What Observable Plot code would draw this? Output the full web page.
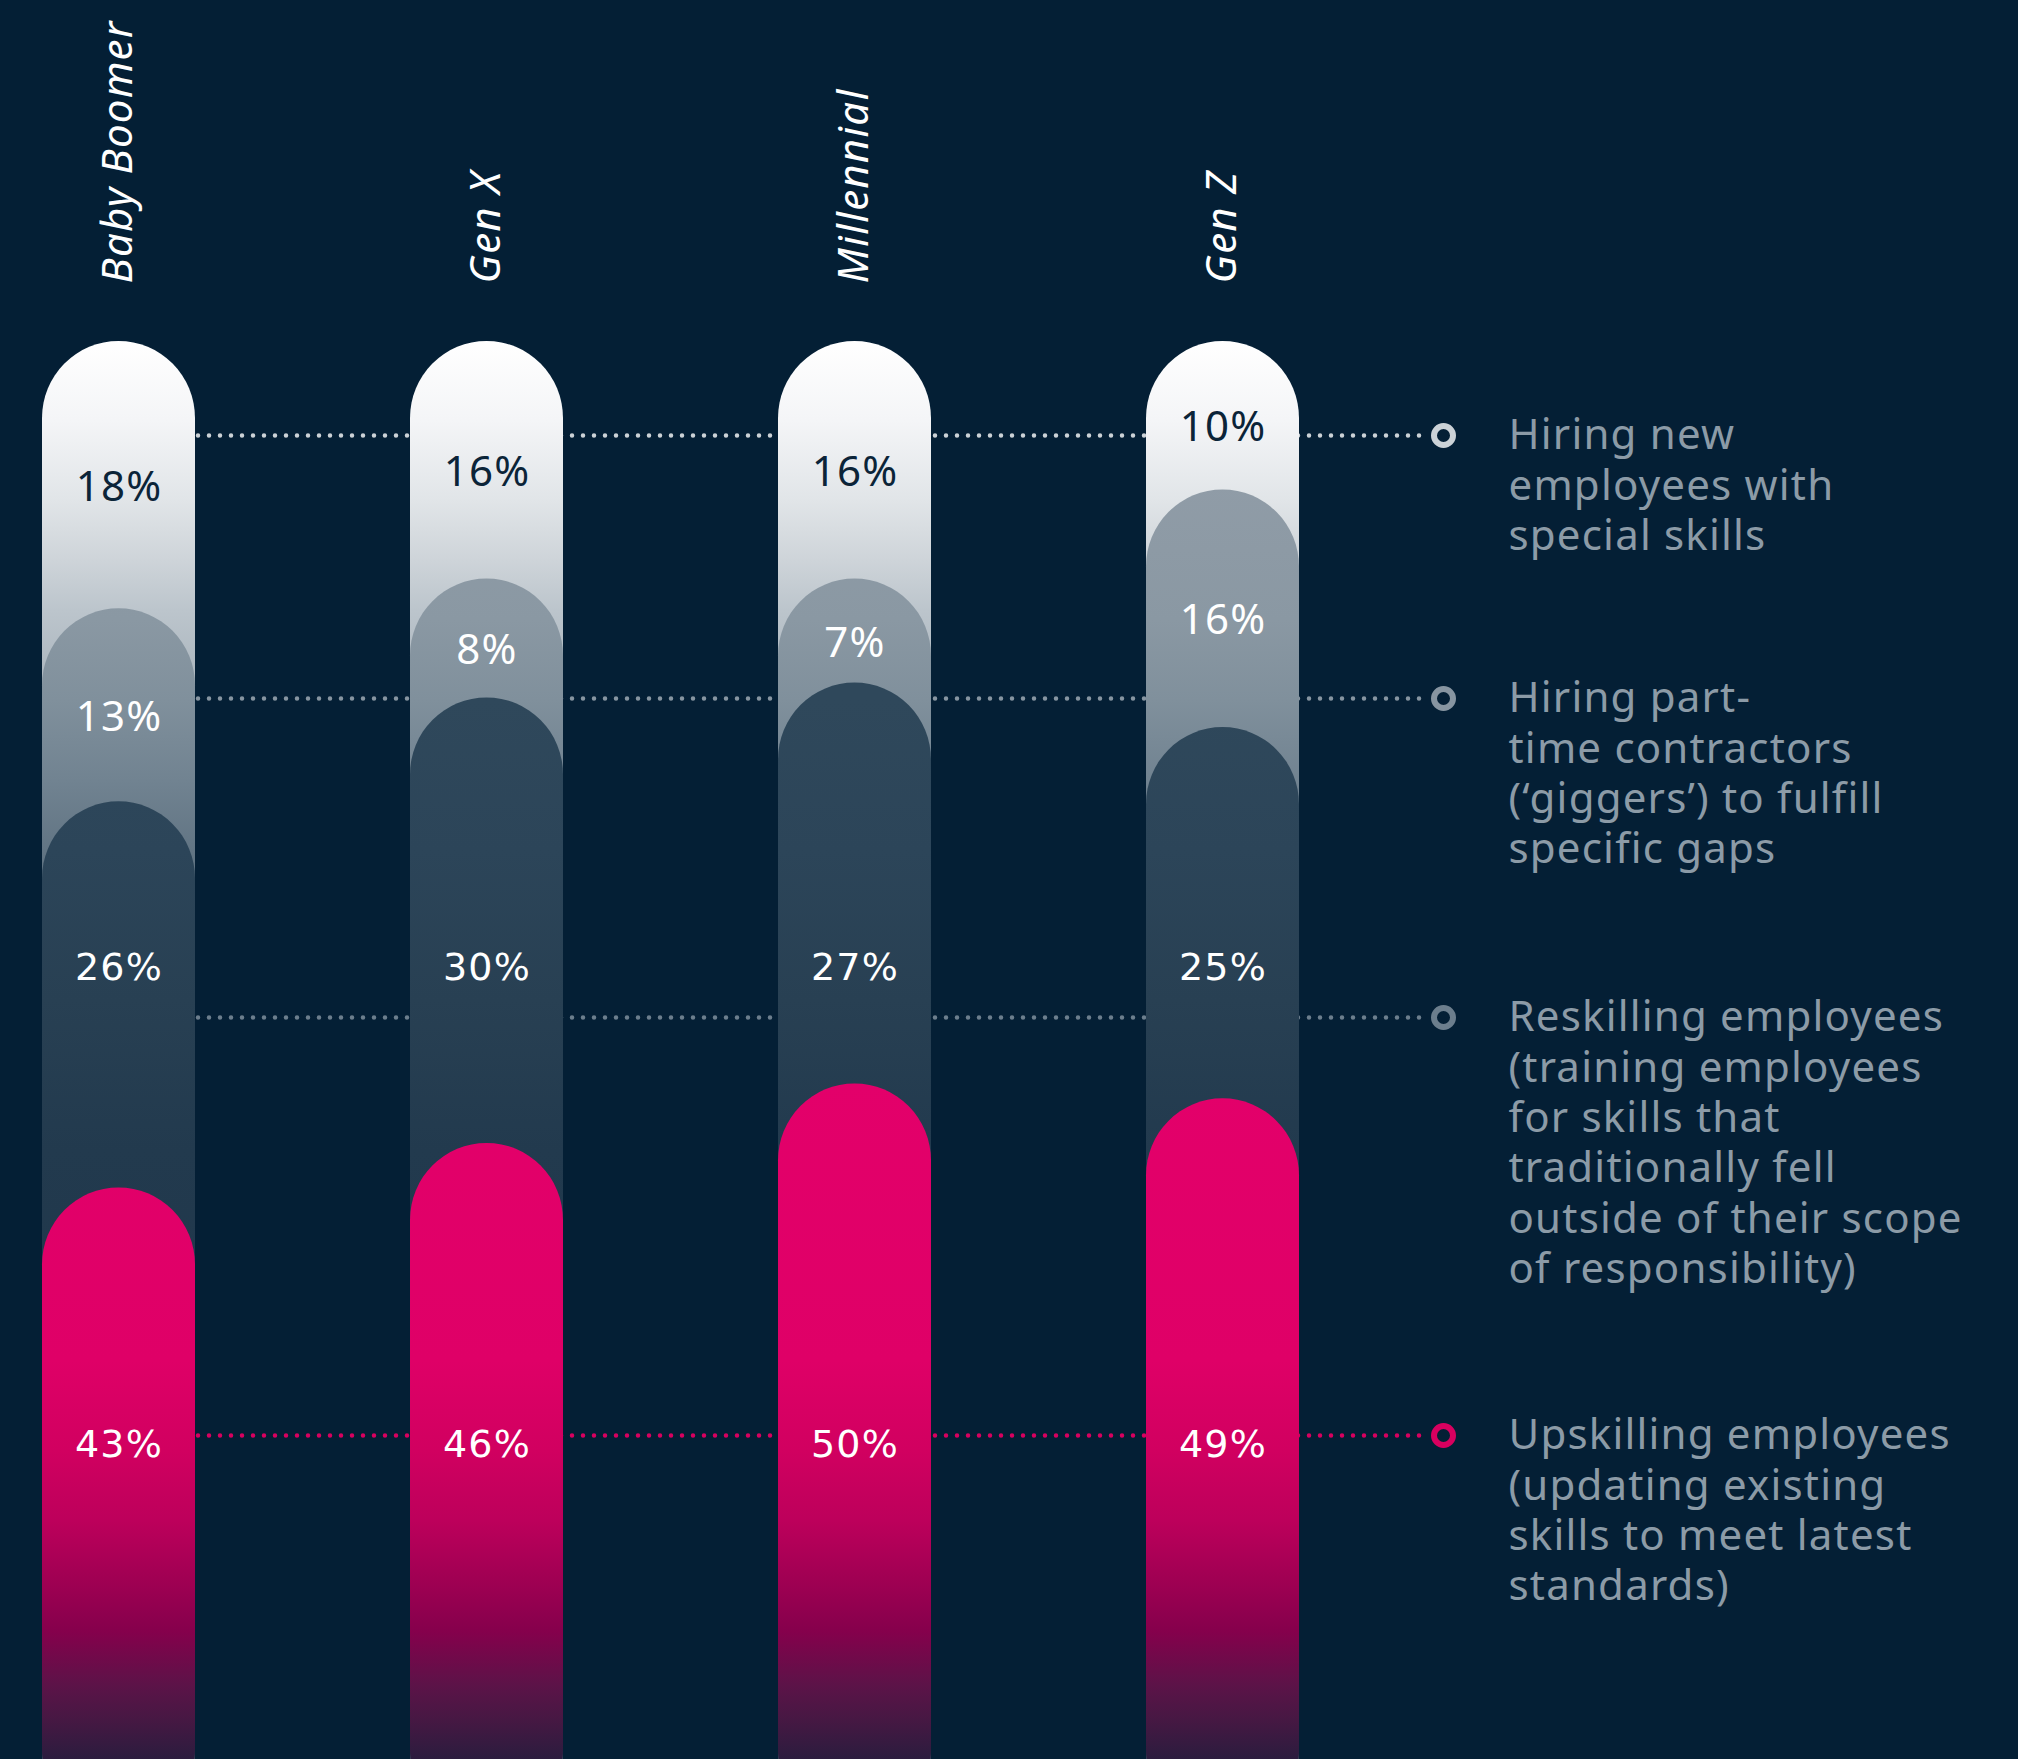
<!DOCTYPE html>
<html>
<head>
<meta charset="utf-8">
<script src="https://cdn.jsdelivr.net/npm/d3@7"></script>
<script src="https://cdn.jsdelivr.net/npm/@observablehq/plot@0.6"></script>
<style>
  html, body { margin: 0; padding: 0; background: #041f35; overflow: hidden; }
  #chart { width: 2018px; height: 1759px; overflow: hidden; }
  #chart svg { display: block; }
</style>
</head>
<body>
<div id="chart"></div>
<script>
// Share of respondents choosing each approach to closing skills gaps, by generation
const generations = ["Baby Boomer", "Gen X", "Millennial", "Gen Z"];
const hiringNew   = [18, 16, 16, 10];
const hiringGig   = [13, 8, 7, 16];
const reskilling  = [26, 30, 27, 25];
const upskilling  = [43, 46, 50, 49];
const strategyLabels = [
  "Hiring new\nemployees with\nspecial skills",
  "Hiring part-\ntime contractors\n(‘giggers’) to fulfill\nspecific gaps",
  "Reskilling employees\n(training employees\nfor skills that\ntraditionally fell\noutside of their scope\nof responsibility)",
  "Upskilling employees\n(updating existing\nskills to meet latest\nstandards)"
];

const seriesValues = [hiringNew, hiringGig, reskilling, upskilling];

// Layout and styling
const W = 2018, H = 1759;
const BG = "#041f35";
const pillFill = ["url(#pill-light)", "url(#pill-grey)", "url(#pill-dark)", "url(#pill-pink)"];
const keyInk = ["#ccd2d7", "#8795a1", "#6c7e8d", "#d8005f"];
const keyRowAt = [6.33, 24.04, 45.52, 73.67];   // legend rows, in y units
const valueRowAt = [null, null, 42.2, 74.3];     // fixed label rows (null = centred in segment)

// One pill per generation and series: it starts where the previous series ends
// and runs to the bottom of the column, so later pills cap the earlier ones.
const segments = [];
generations.forEach((gen, i) => {
  let top = 0;
  const total = d3.sum(seriesValues, s => s[i]);
  seriesValues.forEach((vals, k) => {
    const v = vals[i];
    segments.push({
      gen, k, value: v, top, total,
      labelY: valueRowAt[k] ?? top + v / 2
    });
    top += v;
  });
});

const keys = strategyLabels.map((label, k) => ({label, k, at: keyRowAt[k]}));

const chart = Plot.plot({
  width: W,
  height: H,
  marginTop: 341,
  marginBottom: 0,
  marginLeft: 0,
  marginRight: 0,
  style: {background: BG, fontFamily: "Noto Sans", overflow: "hidden", letterSpacing: "1.2px"},
  x: {type: "band", domain: generations, range: [41, 1299], paddingInner: 0.5846, paddingOuter: 0},
  y: {domain: [0, 100], range: [341, 1826], axis: null},
  marks: [
    // dotted leader lines from the columns to the legend
    Plot.ruleY(keys, {
      y: "at",
      stroke: d => keyInk[d.k],
      strokeWidth: 4.5,
      strokeDasharray: "0 11",
      strokeLinecap: "round",
      insetLeft: 110,
      insetRight: W - 1430
    }),
    // stacked pills
    ...pillFill.map((fill, k) => Plot.barY(segments, {
      filter: d => d.k === k,
      x: "gen",
      y1: "top",
      y2: "total",
      fill,
      rx: 77
    })),
    // value labels
    Plot.text(segments, {
      filter: d => d.k < 2,
      x: "gen",
      y: "labelY",
      dy: 12,
      text: d => `${d.value}%`,
      fill: d => d.k === 0 ? "#0b2438" : "#ffffff",
      fontSize: 42,
      fontFamily: "Noto Sans"
    }),
    Plot.text(segments, {
      filter: d => d.k >= 2,
      x: "gen",
      y: "labelY",
      text: d => `${d.value}%`,
      fill: "#ffffff",
      fontSize: 38,
      fontFamily: "DejaVu Sans"
    }),
    // generation names above the columns
    Plot.axisX({
      anchor: "top",
      tickSize: 0,
      tickPadding: 58,
      tickRotate: -90,
      fontSize: 42,
      fontStyle: "italic",
      fontFamily: "Noto Sans",
      color: "#ffffff",
      label: null
    }),
    // legend markers and text
    Plot.dot(keys, {
      y: "at",
      frameAnchor: "left",
      dx: 1443,
      r: 9.5,
      stroke: d => keyInk[d.k],
      strokeWidth: 6,
      fill: "none"
    }),
    Plot.text(keys, {
      y: "at",
      text: "label",
      frameAnchor: "left",
      dx: 1508,
      dy: -22,
      textAnchor: "start",
      lineAnchor: "top",
      lineHeight: 1.2,
      fontSize: 42,
      fontFamily: "Noto Sans",
      fill: "#8c9ba7"
    })
  ],
  color: {type: "identity"}
});

// Vertical gradients for the pills, in page pixels so every column fades alike
const gradients = {
  "pill-light": [[341, "#ffffff"], [420, "#f4f5f7"], [500, "#e1e5e8"], [560, "#ced4d9"], [610, "#bcc5cc"], [700, "#a7b2bb"]],
  "pill-grey":  [[480, "#909ca7"], [620, "#8a98a3"], [700, "#80909c"], [780, "#718391"], [850, "#627584"], [1000, "#4d6274"]],
  "pill-dark":  [[700, "#2f485b"], [850, "#2c4559"], [1000, "#284053"], [1150, "#223a4e"], [1400, "#1f364a"], [1759, "#1c3246"]],
  "pill-pink":  [[1080, "#e3006a"], [1360, "#df0067"], [1450, "#d10060"], [1520, "#bd005b"], [1585, "#9d0052"], [1630, "#86004c"], [1685, "#5c1348"], [1720, "#461843"], [1759, "#2b1c3e"]]
};
const defs = d3.select(chart).insert("defs", ":first-child");
for (const [id, stops] of Object.entries(gradients)) {
  const g = defs.append("linearGradient")
    .attr("id", id)
    .attr("gradientUnits", "userSpaceOnUse")
    .attr("x1", 0).attr("x2", 0).attr("y1", 0).attr("y2", H);
  for (const [y, c] of stops) {
    g.append("stop").attr("offset", y / H).attr("stop-color", c);
  }
}

document.getElementById("chart").appendChild(chart);
</script>
</body>
</html>
